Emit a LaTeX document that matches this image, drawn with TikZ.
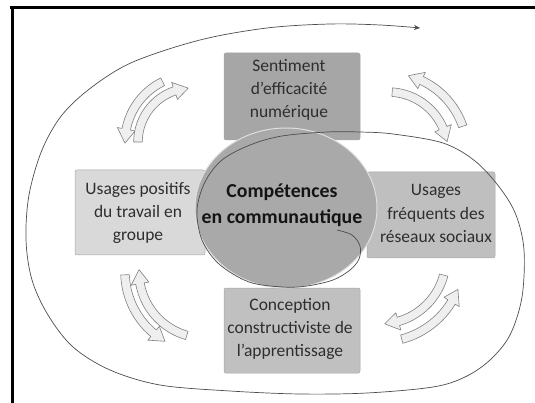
\documentclass[tikz,border=0pt]{standalone}
\usepackage{fontspec}
\setmainfont{Carlito}
\usetikzlibrary{shapes.geometric,arrows.meta}
\definecolor{boxtop}{HTML}{A6A6A6}
\definecolor{boxleft}{HTML}{D9D9D9}
\definecolor{boxright}{HTML}{BFBFBF}
\definecolor{boxbot}{HTML}{C0C0C0}
\definecolor{corefill}{HTML}{A9A9A9}
\definecolor{arrfill}{HTML}{EFEFEF}
\definecolor{arrline}{HTML}{808080}
\definecolor{txt}{HTML}{2E2E2E}
\tikzset{
  boxsty/.style={draw=black!35, line width=0.5pt, rounded corners=2pt},
  boxtext/.style={align=center, text=txt, inner sep=0pt, font=\fontsize{17.5pt}{23.3pt}\selectfont},
  coretext/.style={align=center, text=black!92, inner sep=0pt, font=\bfseries\fontsize{19.8pt}{26.5pt}\selectfont},
  arrowbody/.style={fill=arrfill, draw=arrline, line width=0.6pt, line join=round},
  spiralsty/.style={draw=black!70, line width=0.7pt},
  framesty/.style={draw=black, line width=3pt}
}
\newcommand\carrow[5]{%
  \pgfmathsetmacro\cA{#4}%
  \pgfmathsetmacro\cB{#5}%
  \pgfmathsetmacro\cH{\cB-sign(\cB-\cA)*14/(#3)*57.2958}%
  \pgfmathsetmacro\rO{#3+4.3}%
  \pgfmathsetmacro\rI{#3-4.3}%
  \pgfmathsetmacro\hO{#3+9}%
  \pgfmathsetmacro\hI{#3-9}%
  \draw[arrowbody] plot[domain=\cA:\cH, samples=24] ({#1+\rO*cos(\x)},{#2-\rO*sin(\x)})
    -- ({#1+\hO*cos(\cH)},{#2-\hO*sin(\cH)})
    -- ({#1+#3*cos(\cB)},{#2-#3*sin(\cB)})
    -- ({#1+\hI*cos(\cH)},{#2-\hI*sin(\cH)})
    -- plot[domain=\cH:\cA, samples=24] ({#1+\rI*cos(\x)},{#2-\rI*sin(\x)})
    -- cycle;
}
\begin{document}
\begin{tikzpicture}[x=1pt,y=-1pt]
\useasboundingbox (0,0) rectangle (535,403);
% frame
\draw[framesty] (10,7.5) -- (535,7.5);
\draw[framesty] (12,6) -- (12,403);
% boxes
\node[boxsty, fill=boxtop, minimum width=136pt, minimum height=87pt] (bt) at (292,96.5) {};
\node[boxsty, fill=boxleft, minimum width=130pt, minimum height=85pt] (bl) at (140,212.5) {};
\node[boxsty, fill=boxright, minimum width=128pt, minimum height=86pt] (br) at (431,215) {};
\node[boxsty, fill=boxbot, minimum width=136pt, minimum height=85pt] (bb) at (292,330.5) {};
\node[boxtext] (tt) at (289,90) {Sentiment\\d’efficacité\\numérique};
\node[boxtext] (tl) at (138,213) {Usages positifs\\du travail en\\groupe};
\node[boxtext] (tr) at (436,213.5) {Usages\\fréquents des\\réseaux sociaux};
\node[boxtext] (tb) at (290,329) {Conception\\constructiviste de\\l’apprentissage};
% core
\node[ellipse, fill=corefill, draw=white!75!gray, line width=1pt, minimum width=182pt, minimum height=160pt, inner sep=0pt] (core) at (286,208) {};
\node[coretext] (ct) at (282,205) {Compétences\\en communautique};
% spiral
\draw[spiralsty, -{Stealth[length=6pt,width=5pt]}] plot[smooth, tension=0.55] coordinates {
 (337,230) (352,235) (360,246) (359,259) (350,270) (333,280) (307,286) (283,287)
 (249,282) (219,264) (202,240) (197,210) (205,182) (222,160) (250,145) (282,136)
 (327,132) (360,132) (393,134) (443,143) (475,161) (500,188) (516,215) (524,250)
 (522,297) (510,335) (490,360) (465,377) (433,387) (367,393) (300,394) (230,391)
 (160,385) (110,370) (73,347) (48,315) (32,280) (26,240) (29,195) (42,150)
 (62,115) (92,87) (133,62) (200,40) (267,28) (330,24) (380,25) (420,28)};
% curved arrows
\carrow{192}{142}{67}{116}{181}
\carrow{192}{142}{54}{180}{94}
\carrow{388}{152}{79}{19}{75}
\carrow{388}{152}{60}{86}{10}
\carrow{205}{272}{66}{254}{178}
\carrow{205}{272}{80}{182}{240}
\carrow{380}{258}{66}{-15}{-86}
\carrow{380}{258}{84}{-75}{-22}
\end{tikzpicture}
\end{document}
